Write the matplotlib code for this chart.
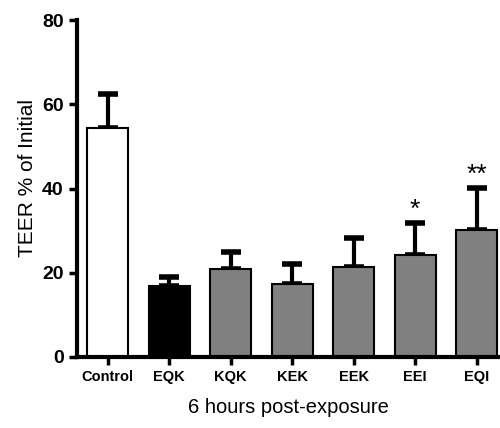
import matplotlib
matplotlib.use('Agg')
import matplotlib.pyplot as plt

# Data
groups = ['Control', 'EQK', 'KQK', 'KEK', 'EEK', 'EEI', 'EQI']
teer = [54.4, 16.9, 20.8, 17.3, 21.3, 24.2, 30.2]
sem = [8.1, 2.1, 4.2, 4.8, 6.9, 7.5, 9.9]
signif = ['', '', '', '', '', '*', '**']
colors = ['white', 'black', '#808080', '#808080', '#808080', '#808080', '#808080']

fig = plt.figure(figsize=(5, 4.28), dpi=100)
ax = fig.add_axes([0.154, 0.166, 0.846, 0.787])

x = list(range(len(groups)))
ax.bar(x, teer, width=0.667, color=colors, edgecolor='black', linewidth=1.5, zorder=2)
ax.errorbar(x, teer, yerr=[[0]*len(sem), sem], fmt='none', ecolor='black',
            elinewidth=3, capsize=7.5, capthick=4, zorder=1)

for i in range(len(groups)):
    if signif[i]:
        ax.text(x[i], teer[i]+sem[i]+0.3, signif[i], ha='center', va='bottom',
                fontsize=19, family='Liberation Sans')

ax.set_xlim(-0.5, 6.38)
ax.set_ylim(0, 80)
ax.set_yticks([0, 20, 40, 60, 80])
ax.set_xticks(x)
ax.set_xticklabels(groups)

for s in ['top', 'right']:
    ax.spines[s].set_visible(False)
for s in ['left', 'bottom']:
    ax.spines[s].set_linewidth(3)

ax.tick_params(axis='both', width=2.5, length=6, direction='out')
for lab in ax.get_yticklabels():
    lab.set_family('Liberation Sans')
    lab.set_fontweight('bold')
    lab.set_fontsize(14)
for lab in ax.get_xticklabels():
    lab.set_family('Liberation Sans')
    lab.set_fontweight('bold')
    lab.set_fontsize(10.5)

ax.set_ylabel('TEER % of Initial', fontsize=15, family='Liberation Sans')
ax.yaxis.set_label_coords(-0.095, 0.53)
ax.set_xlabel('6 hours post-exposure', fontsize=14.5, family='Liberation Sans', labelpad=10)

plt.savefig('out.png', dpi=100)
